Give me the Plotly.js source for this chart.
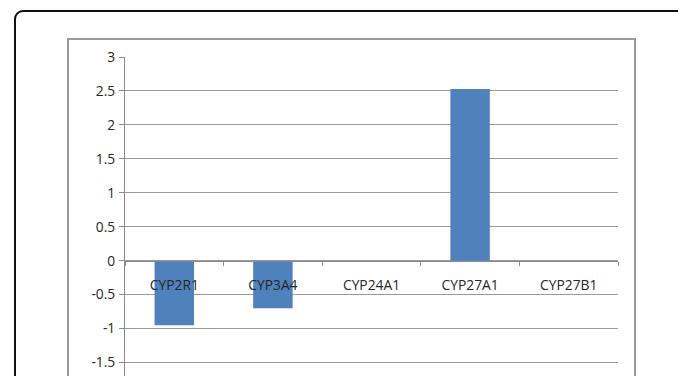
<!DOCTYPE html>
<html>
<head>
<meta charset="utf-8">
<script src="https://cdn.plot.ly/plotly-3.0.1.min.js"></script>
<style>
  html, body { margin: 0; padding: 0; width: 678px; height: 376px; overflow: hidden; background: #ffffff; }
  #outer { position: absolute; left: 14px; top: 10px; width: 720px; height: 420px; border: 2px solid #111; border-radius: 9px; box-sizing: border-box; }
  #inner { position: absolute; left: 67px; top: 38px; width: 569px; height: 400px; border: 2px solid #9a9a9a; box-sizing: border-box; }
  #chart { position: absolute; left: 0; top: 0; width: 678px; height: 376px; }
</style>
</head>
<body>
<div id="outer"></div>
<div id="inner"></div>
<div id="chart"></div>
<script>
const categories = ['CYP2R1', 'CYP3A4', 'CYP24A1', 'CYP27A1', 'CYP27B1'];
const values = [-0.95, -0.70, 0, 2.53, 0];
const yTickVals = [3, 2.5, 2, 1.5, 1, 0.5, 0, -0.5, -1, -1.5];
const yTickText = ['3', '2.5', '2', '1.5', '1', '0.5', '0', '-0.5', '-1', '-1.5'];

const yRange = [-1.698, 3];
const zeroPos = (0 - yRange[0]) / (yRange[1] - yRange[0]);
const FONT = 'Open Sans, sans-serif';

const trace = {
  type: 'bar',
  x: categories,
  y: values,
  marker: { color: '#4F81BD', line: { width: 0 } },
  hoverinfo: 'x+y'
};

const layout = {
  width: 678,
  height: 376,
  autosize: false,
  margin: { l: 125, r: 60, t: 57, b: 0, pad: 0 },
  paper_bgcolor: 'rgba(0,0,0,0)',
  plot_bgcolor: 'rgba(0,0,0,0)',
  bargap: 0.6,
  showlegend: false,
  font: { family: FONT, size: 13.8, color: '#262626' },
  xaxis: {
    type: 'category',
    anchor: 'free',
    position: zeroPos,
    range: [-0.5, 4.5],
    showline: true,
    linecolor: '#8a8a8a',
    linewidth: 1,
    showgrid: false,
    zeroline: false,
    ticks: 'outside',
    tickson: 'boundaries',
    ticklen: 4,
    tickcolor: '#8a8a8a',
    tickwidth: 1,
    ticklabelstandoff: 12,
    tickfont: { family: FONT, size: 13.8, color: '#262626' },
    fixedrange: true
  },
  yaxis: {
    range: yRange,
    tickvals: yTickVals,
    ticktext: yTickText,
    showline: true,
    linecolor: '#8a8a8a',
    linewidth: 1,
    showgrid: true,
    gridcolor: '#9a9a9a',
    gridwidth: 1,
    zeroline: false,
    ticks: 'outside',
    ticklen: 5,
    tickcolor: '#8a8a8a',
    tickwidth: 1,
    ticklabelstandoff: 1,
    tickfont: { family: FONT, size: 13.8, color: '#262626' },
    fixedrange: true
  }
};

Plotly.newPlot('chart', [trace], layout, { displayModeBar: false, staticPlot: true });
</script>
</body>
</html>
